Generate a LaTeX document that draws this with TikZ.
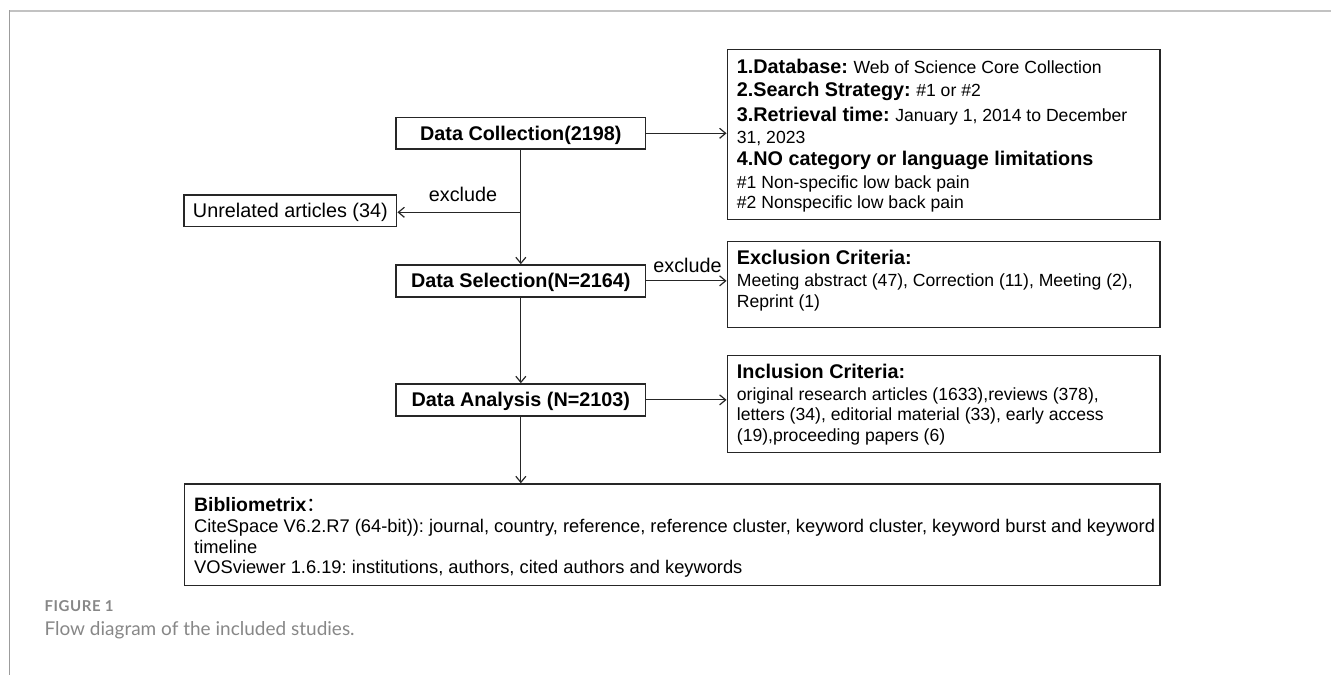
\documentclass[tikz,border=0pt]{standalone}
\usepackage{fontspec}
\setmainfont{Liberation Sans}
\newfontfamily\capfont{Lato}
\newfontfamily\cjk{Noto Sans CJK SC}
\usetikzlibrary{arrows.meta}
\frenchspacing

\definecolor{ink}{HTML}{262626}
\definecolor{rulegray}{HTML}{C2C2C2}
\definecolor{sidegray}{HTML}{9C9C9C}
\definecolor{capgray}{HTML}{878787}

% font sizes used in the flow chart
\newcommand{\headfont}{\fontsize{19.8}{24}\bfseries\selectfont}
\newcommand{\bodyfont}{\fontsize{17.6}{21.6}\mdseries\selectfont}
\newcommand{\plainfont}{\fontsize{19.8}{24}\mdseries\selectfont}
\newcommand{\toolfont}{\fontsize{18.3}{22}\mdseries\selectfont}

\begin{document}
\begin{tikzpicture}[x=1pt,y=-1pt,
  box/.style={draw=ink, line width=1.5pt, inner sep=0pt},
  stage/.style={box, minimum width=249.7pt, minimum height=31.8pt,
    text height=14.2pt, text depth=0pt, font=\headfont},
  txt/.style={anchor=base west, inner sep=0pt, align=left},
  flow/.style={draw=ink, line width=1.2pt,
    -{Straight Barb[length=6pt,width=10pt,line width=1.2pt]}},
  note/.style={inner sep=0pt, anchor=base, font=\plainfont}]

\useasboundingbox (0,0) rectangle (1331,675);

% page frame
\draw[rulegray, line width=1.8pt] (1331,11) -- (9.3,11);
\draw[sidegray, line width=1.6pt] (9.3,10.1) -- (9.3,675);

% main stages
\node[stage] (collect)  at (520.85,133.3)  {Data Collection(2198)};
\node[stage] (select)   at (520.85,280.85) {Data Selection(N=2164)};
\node[stage] (analysis) at (520.85,399.85) {Data Analysis (N=2103)};

\node[box, minimum width=212.7pt, minimum height=31.7pt,
  text height=14.2pt, text depth=0pt, font=\plainfont]
  (unrel) at (290.35,210.85) {Unrelated articles (34)};

% side boxes
\node[box, minimum width=432.7pt, minimum height=170pt] (db)   at (943.65,134.3) {};
\node[box, minimum width=432.7pt, minimum height=85.6pt] (excl) at (943.65,284.5) {};
\node[box, minimum width=432.7pt, minimum height=97pt]   (incl) at (943.65,404.2) {};
\node[box, minimum width=975.7pt, minimum height=101.7pt] (biblio) at (672.15,534.85) {};

\node[txt] (dbtxt) at (736.7,73.3) {\vtop{\baselineskip=21.6pt
  \hbox{{\headfont 1.Database: }\bodyfont Web of Science Core Collection}
  \vskip1.1pt
  \hbox{{\headfont 2.Search Strategy: }\bodyfont \#1 or \#2}
  \vskip4.1pt
  \hbox{{\headfont 3.Retrieval time: }\bodyfont January 1, 2014 to December}
  \vskip0.5pt
  \hbox{\bodyfont 31, 2023}
  \vskip-0.4pt
  \hbox{\headfont 4.NO category or language limitations}
  \vskip2pt
  \hbox{\bodyfont \#1 Non-specific low back pain}
  \vskip-1.6pt
  \hbox{\bodyfont \#2 Nonspecific low back pain}}};

\node[txt] (excltxt) at (736.7,264.3) {\vtop{\baselineskip=20.6pt
  \hbox{\headfont Exclusion Criteria:}
  \vskip1.8pt
  \hbox{\bodyfont Meeting abstract (47), Correction (11), Meeting (2),}
  \hbox{\bodyfont Reprint (1)}}};

\node[txt] (incltxt) at (736.7,378.3) {\vtop{\baselineskip=20.8pt
  \hbox{\headfont Inclusion Criteria:}
  \vskip0.9pt
  \hbox{\bodyfont original research articles (1633),reviews (378),}
  \hbox{\bodyfont letters (34), editorial material (33), early access}
  \hbox{\bodyfont (19),proceeding papers (6)}}};

\node[txt] (bibliotxt) at (194,511.5) {\vtop{\baselineskip=20.5pt
  \hbox{\fontsize{19.4}{24}\bfseries\selectfont Bibliometrix{\cjk\mdseries ：}}
  \hbox{\toolfont CiteSpace V6.2.R7 (64-bit)): journal, country, reference, reference cluster, keyword cluster, keyword burst and keyword}
  \vskip0.5pt
  \hbox{\toolfont timeline}
  \hbox{\toolfont VOSviewer 1.6.19: institutions, authors, cited authors and keywords}}};

% connectors
\coordinate (branch) at (520.85,212.3);
\draw[flow] (collect.south) -- (select.north);
\draw[flow] (branch) -- (branch -| unrel.east);
\draw[flow] (select.south) -- (analysis.north);
\draw[flow] (analysis.south) -- (biblio.north -| analysis.south);
\draw[flow] (collect.east) -- (collect.east -| db.west);
\draw[flow] (select.east) -- (select.east -| excl.west);
\draw[flow] (analysis.east) -- (analysis.east -| incl.west);

\node[note] (exc1) at (463,201.7) {exclude};
\node[note] (exc2) at (687.5,272.5) {exclude};

% caption
\node[txt, text=capgray, font={\capfont\bfseries\fontsize{15}{17}\selectfont\addfontfeatures{LetterSpace=4}}]
  (figlabel) at (44.3,611) {FIGURE 1};
\node[txt, text=capgray, font={\capfont\fontsize{19}{22}\selectfont}]
  (figcaption) at (44.3,635) {Flow diagram of the included studies.};
\end{tikzpicture}
\end{document}
